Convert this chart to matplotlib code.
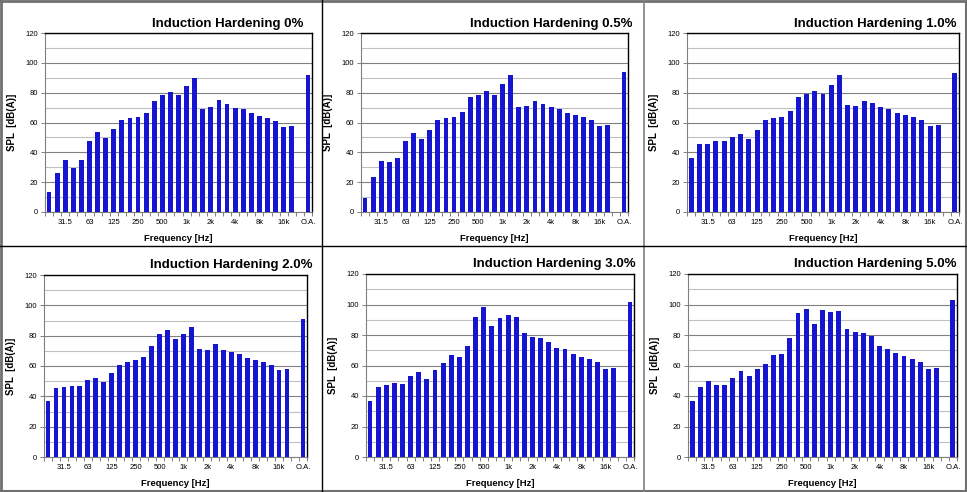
import numpy as np
import matplotlib
matplotlib.use("Agg")
import matplotlib.pyplot as plt
from matplotlib.lines import Line2D

plt.rcParams['font.family'] = ['Liberation Sans', 'DejaVu Sans']

# bandes de tiers d'octave + une case vide + global
bandes = ['20', '25', '31.5', '40', '50', '63', '80', '100', '125', '160', '200',
          '250', '315', '400', '500', '630', '800', '1k', '1.25k', '1.6k', '2k',
          '2.5k', '3.15k', '4k', '5k', '6.3k', '8k', '10k', '12.5k', '16k', '20k',
          '', 'O.A.']
etiquettes = ['31.5', '63', '125', '250', '500', '1k', '2k', '4k', '8k', '16k', 'O.A.']

titres = ['Induction Hardening 0%', 'Induction Hardening 0.5%', 'Induction Hardening 1.0%',
          'Induction Hardening 2.0%', 'Induction Hardening 3.0%', 'Induction Hardening 5.0%']

spl_0 = [13.2, 25.9, 35.1, 29.7, 35.1, 47.8, 53.9, 49.4, 55.4, 61.9, 62.8, 63.9, 66.6,
         74.6, 78.7, 80.7, 78.7, 84.7, 89.6, 69.3, 70.6, 75.3, 72.6, 69.9, 69.3, 66.6,
         64.6, 63.2, 61.2, 57.2, 57.9, np.nan, 92.1]
spl_05 = [9.6, 23.5, 34.2, 33.6, 36.3, 47.7, 53.1, 49.0, 55.1, 61.8, 63.1, 63.8, 67.2,
          77.2, 78.6, 81.3, 78.6, 86.0, 92.0, 70.5, 71.2, 74.5, 72.5, 70.5, 69.2, 66.5,
          65.1, 63.8, 61.8, 57.8, 58.4, np.nan, 94.0]
spl_10 = [36.3, 45.7, 45.7, 47.7, 47.7, 50.4, 52.4, 49.0, 55.1, 61.8, 63.1, 63.8, 67.8,
          77.2, 79.2, 81.3, 79.2, 85.3, 92.0, 71.9, 71.2, 74.5, 73.2, 70.5, 69.2, 66.5,
          65.1, 63.8, 61.8, 57.8, 58.4, np.nan, 93.4]
spl_20 = [36.6, 45.7, 46.3, 47.0, 47.0, 50.5, 52.1, 49.6, 55.6, 60.9, 62.9, 64.2, 66.2,
          73.5, 81.4, 84.0, 78.1, 81.4, 86.0, 71.5, 70.8, 74.8, 70.8, 69.5, 68.2, 65.5,
          64.2, 62.9, 60.9, 57.6, 58.2, np.nan, 90.7]
spl_30 = [36.7, 45.9, 47.2, 48.5, 47.9, 53.1, 55.7, 51.1, 57.0, 61.6, 66.9, 65.6, 72.8,
          91.8, 98.4, 85.9, 91.1, 93.1, 91.8, 81.3, 78.7, 78.0, 75.4, 71.5, 70.8, 67.5,
          65.6, 64.3, 62.3, 57.7, 58.4, np.nan, 101.6]
spl_50 = [36.7, 45.9, 49.8, 47.2, 47.2, 51.8, 56.4, 53.1, 57.7, 61.0, 66.9, 67.5, 78.0,
          94.4, 97.0, 87.2, 96.4, 95.1, 95.7, 83.9, 82.0, 81.3, 79.3, 72.8, 70.8, 68.2,
          66.2, 64.3, 62.3, 57.7, 58.4, np.nan, 103.0]
donnees = [spl_0, spl_05, spl_10, spl_20, spl_30, spl_50]

# position des zones de trace en pixels (gauche, droite, haut, bas) et du titre
W, H = 967, 492
zones = [(45, 312, 33, 212), (361, 628, 33, 212), (687, 959, 33, 212),
         (44, 307, 275, 457), (366, 634, 274, 457), (688, 957, 274, 457)]
pos_titre = [(303, 24), (633, 24), (957, 24), (313, 265), (636, 264), (957, 264)]

bleu = '#1616d0'

fig = plt.figure(figsize=(W / 100, H / 100), dpi=100)

x = np.arange(len(bandes))
pos_etiq = [bandes.index(e) for e in etiquettes]

for k in range(6):
    g, d, h, b = zones[k]
    ax = fig.add_axes([g / W, 1 - b / H, (d - g) / W, (b - h) / H])
    ax.bar(x, donnees[k], width=0.6, color=bleu, zorder=3)
    ax.set_xlim(-0.5, len(bandes) - 0.5)
    ax.set_ylim(0, 120)
    ax.set_yticks(np.arange(0, 121, 20))
    ax.set_yticks(np.arange(10, 120, 20), minor=True)
    ax.grid(axis='y', which='major', color='#808080', lw=0.8, zorder=0)
    ax.grid(axis='y', which='minor', color='#c0c0c0', lw=0.8, zorder=0)
    ax.set_xticks(pos_etiq)
    ax.set_xticklabels(etiquettes)
    ax.set_xticks(np.arange(-0.5, len(bandes)), minor=True)
    ax.tick_params(axis='x', which='major', length=0, labelsize=5.5, pad=5)
    ax.tick_params(axis='x', which='minor', length=3, color='#808080', width=0.7)
    ax.tick_params(axis='y', which='major', length=3, color='#808080', width=0.7,
                   labelsize=5.5, pad=2)
    ax.tick_params(axis='y', which='minor', length=0)
    for c in ['top', 'right']:
        ax.spines[c].set_color('black')
        ax.spines[c].set_linewidth(1.0)
    for c in ['left', 'bottom']:
        ax.spines[c].set_color('#808080')
        ax.spines[c].set_linewidth(0.8)
    ax.set_ylabel('SPL  [dB(A)]', fontsize=7, fontweight='bold', labelpad=6)
    ax.set_xlabel('Frequency [Hz]', fontsize=6.8, fontweight='bold', labelpad=6)
    tx, ty = pos_titre[k]
    fig.text(tx / W, 1 - ty / H, titres[k], ha='right', va='center',
             fontsize=9.5, fontweight='bold')

# cadres entre les graphes
def trait(x0, y0, x1, y1, col, lw):
    fig.add_artist(Line2D([x0 / W, x1 / W], [1 - y0 / H, 1 - y1 / H],
                          transform=fig.transFigure, color=col, lw=lw))

trait(1, 0, 1, H, '#707070', 2)
trait(0, 1, W, 1, '#707070', 2)
trait(W - 1, 0, W - 1, H, '#707070', 1.5)
trait(0, H - 1, W, H - 1, '#707070', 1.5)
trait(322, 0, 322, H, 'black', 1)
trait(644, 0, 644, H, '#808080', 1.2)
trait(0, 246, W, 246, 'black', 1)

fig.savefig('out.png', dpi=100)
